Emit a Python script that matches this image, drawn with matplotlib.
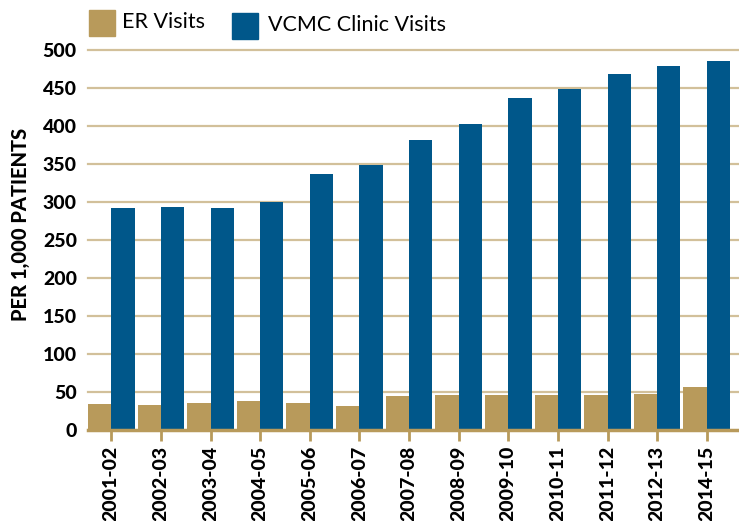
import matplotlib
matplotlib.use("Agg")
import matplotlib.pyplot as plt
import numpy as np
from matplotlib.patches import Rectangle

categories = ["2001-02", "2002-03", "2003-04", "2004-05", "2005-06", "2006-07",
              "2007-08", "2008-09", "2009-10", "2010-11", "2011-12", "2012-13", "2014-15"]
er_visits = [35, 33, 36, 39, 36, 32, 45, 46, 46, 46, 46, 48, 57]
clinic_visits = [292, 294, 292, 300, 337, 349, 382, 403, 437, 449, 468, 479, 486]
yticks = [0, 50, 100, 150, 200, 250, 300, 350, 400, 450, 500]

GOLD = "#B89A5B"
BLUE = "#00578A"
GRID = "#D2C09A"

plt.rcParams['font.family'] = ['Lato', 'DejaVu Sans']

W, H = 739, 521
fig = plt.figure(figsize=(W / 100, H / 100), dpi=100)
left, right, top, bottom = 88, 739, 50, 430.3
ax = fig.add_axes([left / W, (H - bottom) / H, (right - left) / W, (bottom - top) / H])

x = np.arange(len(categories))
bw = 0.47
ax.bar(x - bw / 2, er_visits, width=bw, color=GOLD, zorder=3)
ax.bar(x + bw / 2, clinic_visits, width=bw, color=BLUE, zorder=3)

ax.set_ylim(0, 500)
ax.set_xlim(-0.47, 12.65)
ax.set_yticks(yticks)
ax.set_yticklabels([str(v) for v in yticks], fontsize=14, fontweight='black')
for v in yticks[1:]:
    ax.axhline(v, color=GRID, lw=1.6, zorder=1, clip_on=False)

ax.set_xticks(x)
ax.set_xticklabels(categories, rotation=90, fontsize=14, fontweight='black')

for s in ["top", "right", "left"]:
    ax.spines[s].set_visible(False)
ax.spines["bottom"].set_color(GOLD)
ax.spines["bottom"].set_linewidth(2.5)
ax.spines["bottom"].set_zorder(4)
ax.tick_params(axis='y', length=0, pad=8)
ax.tick_params(axis='x', length=8, width=2, color=GOLD, pad=3)

fig.text(21 / W, 1 - 224 / H, "PER 1,000 PATIENTS", rotation=90, ha='center', va='center',
         fontsize=14.5, fontweight='black')

# legend
fig.add_artist(Rectangle((89 / W, 1 - 36 / H), 26 / W, 26 / H, transform=fig.transFigure,
                         color=GOLD))
fig.text(122 / W, 1 - 22 / H, "ER Visits", ha='left', va='center', fontsize=15.5)
fig.add_artist(Rectangle((232 / W, 1 - 39 / H), 26 / W, 26 / H, transform=fig.transFigure,
                         color=BLUE))
fig.text(268 / W, 1 - 25 / H, "VCMC Clinic Visits", ha='left', va='center', fontsize=15.5)

fig.savefig("out.png", dpi=100)
